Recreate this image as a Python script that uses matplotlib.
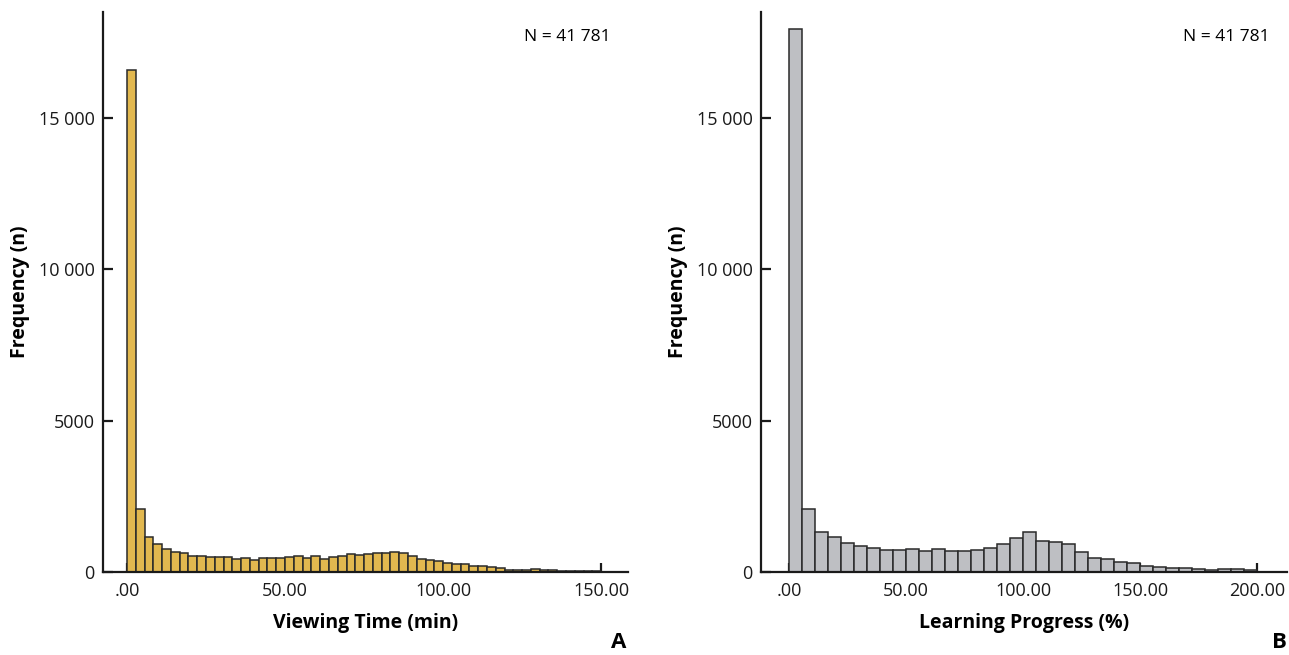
import numpy as np
import matplotlib.pyplot as plt

plt.rcParams['font.family'] = ['Open Sans', 'DejaVu Sans']

# Panel A: viewing time (min), 54 bins from 0 to 150
view_counts = [16600, 2090, 1170, 915, 770, 670, 615, 540, 540, 495, 495, 495,
               440, 465, 405, 465, 475, 475, 505, 520, 475, 520, 440, 485,
               540, 585, 550, 605, 640, 615, 650, 615, 520, 440, 395, 350,
               295, 255, 255, 210, 210, 165, 120, 78, 66, 66, 88, 55, 55,
               44, 44, 33, 33, 44]
view_range = (0, 150)

# Panel B: learning progress (%), 36 bins from 0 to 200
prog_counts = [17950, 2090, 1325, 1140, 970, 870, 805, 740, 715, 775, 705, 775,
               705, 705, 740, 785, 925, 1125, 1315, 1040, 980, 915, 675, 465,
               430, 340, 285, 200, 165, 130, 130, 110, 75, 100, 100, 75]
prog_range = (0, 200)

yticks = [0, 5000, 10000, 15000]
yticklabels = ["0", "5000", "10 000", "15 000"]
n_text = "N = 41 781"

W, H = 1289, 655
fig = plt.figure(figsize=(W / 100, H / 100), dpi=100)


def panel(rect, counts, rng, xlim, xticks, color, xlabel, letter, letter_x):
    ax = fig.add_axes(rect)
    edges = np.linspace(rng[0], rng[1], len(counts) + 1)
    ax.bar(edges[:-1], counts, width=np.diff(edges), align='edge',
           color=color, edgecolor='#2a2a2a', linewidth=1.1, zorder=2)
    ax.set_xlim(*xlim)
    ax.set_ylim(0, 18500)
    ax.set_yticks(yticks)
    ax.set_yticklabels(yticklabels)
    ax.set_xticks(xticks)
    ax.set_xticklabels([".00"] + ["%.2f" % t for t in xticks[1:]])
    for s in ['top', 'right']:
        ax.spines[s].set_visible(False)
    for s in ['left', 'bottom']:
        ax.spines[s].set_linewidth(1.6)
        ax.spines[s].set_color('#1a1a1a')
    ax.tick_params(axis='y', direction='in', length=7.5, width=1.6,
                   pad=6, labelsize=13, colors='#1a1a1a')
    ax.tick_params(axis='x', direction='in', length=6.5, width=1.6,
                   pad=7.5, labelsize=13, colors='#1a1a1a')
    ax.set_ylabel("Frequency (n)", fontsize=14, fontweight='bold', labelpad=6)
    ax.set_xlabel(xlabel, fontsize=14, fontweight='bold', labelpad=9)
    ax.text(0.885, 0.955, n_text, transform=ax.transAxes, ha='center',
            va='center', fontsize=12.5)
    fig.text(letter_x, 0.003, letter, ha='right', va='bottom',
             fontsize=16, fontweight='bold')
    return ax


panel([103 / W, 83 / H, 525 / W, 560 / H], view_counts, view_range,
      (-7.6, 158.5), [0, 50, 100, 150], '#E2B84F',
      "Viewing Time (min)", "A", 626 / W)
panel([761 / W, 83 / H, 526 / W, 560 / H], prog_counts, prog_range,
      (-12, 212.8), [0, 50, 100, 150, 200], '#BEBFC3',
      "Learning Progress (%)", "B", 1287 / W)

fig.savefig("out.png", dpi=100)
